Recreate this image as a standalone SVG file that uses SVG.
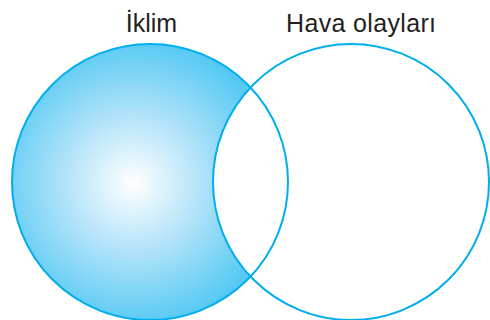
<svg xmlns="http://www.w3.org/2000/svg" width="490" height="320" viewBox="0 0 490 320">
  <style>
    .lbl { font-family: "Liberation Sans", Arial, sans-serif; font-size: 25px; fill: #231f20; }
    .ring { stroke: #00aeef; stroke-width: 2; }
  </style>
  <defs>
    <radialGradient id="blueGrad" gradientUnits="userSpaceOnUse" cx="133" cy="183" r="145">
      <stop offset="0" stop-color="#ffffff"/>
      <stop offset="0.45" stop-color="#b5e4f9"/>
      <stop offset="1" stop-color="#55c9f3"/>
    </radialGradient>
  </defs>
  <rect width="490" height="320" fill="#ffffff"/>
  <g id="iklim">
    <circle id="iklim-fill" cx="150" cy="182" r="138" fill="url(#blueGrad)"/>
  </g>
  <g id="hava-olaylari">
    <circle cx="351" cy="182" r="138" fill="#ffffff" class="ring"/>
    <text class="lbl" x="286" y="31.7" textLength="150" lengthAdjust="spacing">Hava olayları</text>
  </g>
  <g id="iklim-outline">
    <circle cx="150" cy="182" r="138" fill="none" class="ring"/>
    <text class="lbl" x="151.5" y="31.7" text-anchor="middle">İklim</text>
  </g>
</svg>
